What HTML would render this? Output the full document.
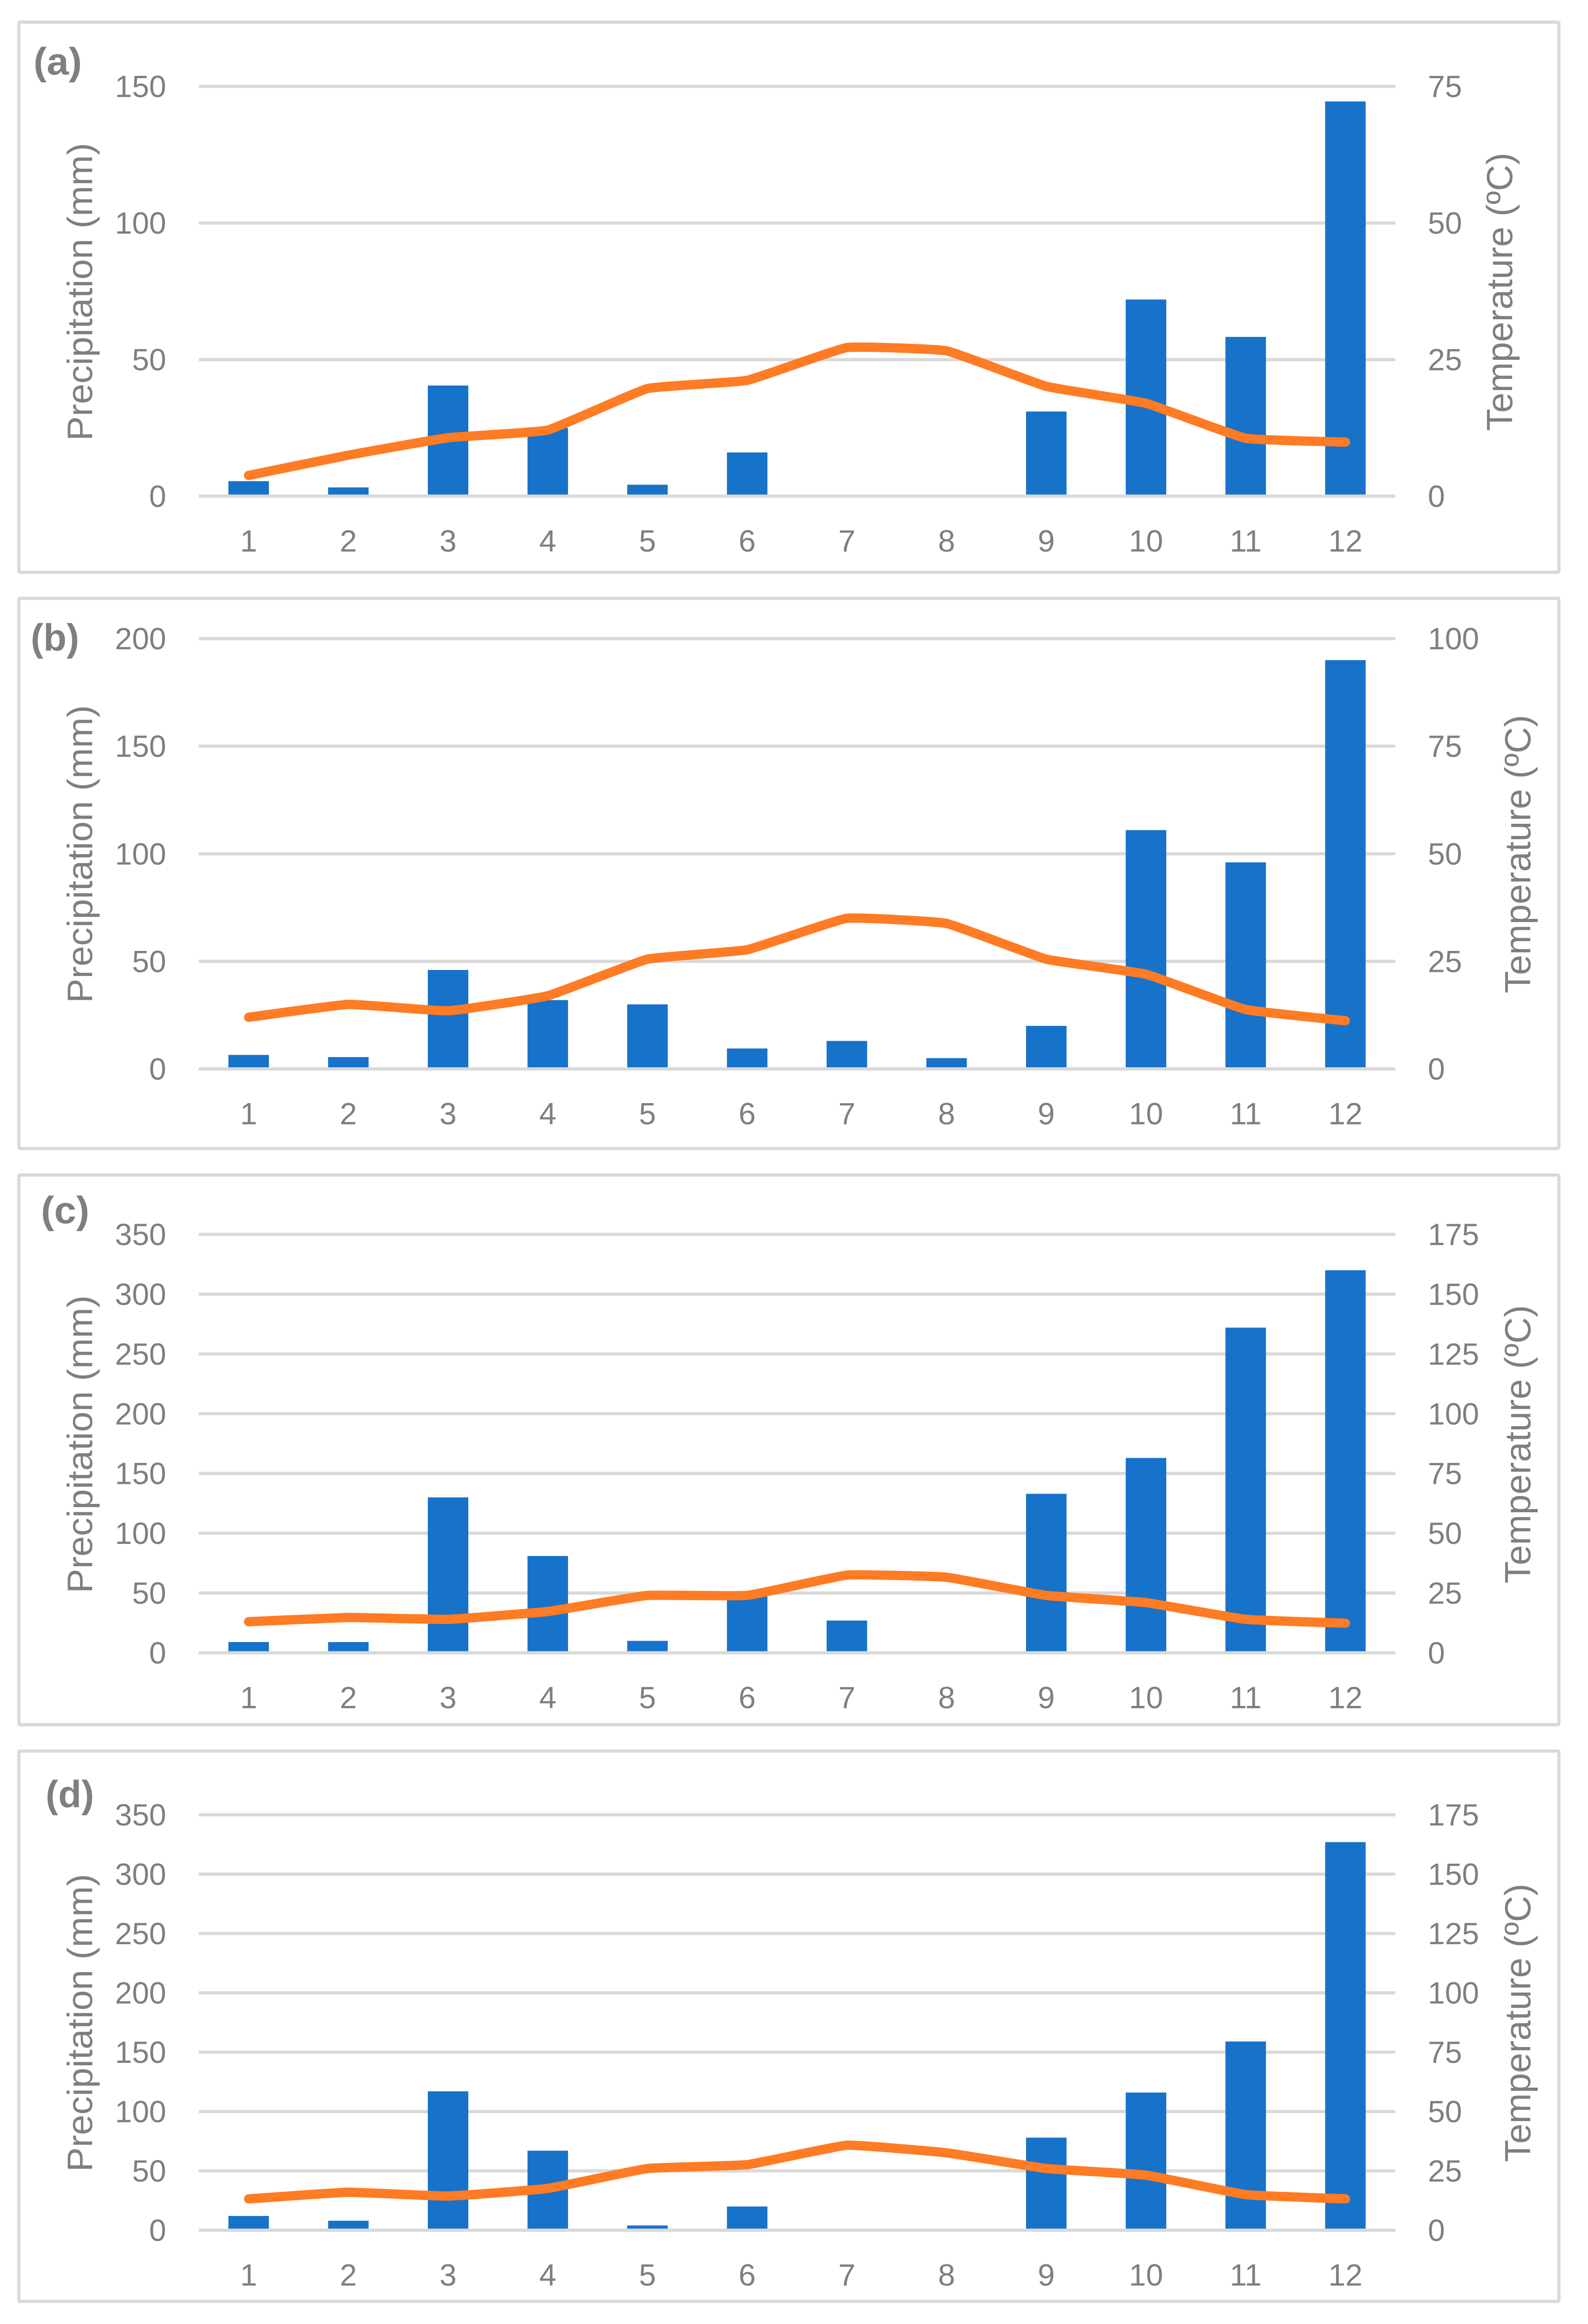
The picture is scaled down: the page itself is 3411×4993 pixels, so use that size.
<!DOCTYPE html>
<html lang="en">
<head>
<meta charset="utf-8">
<title>Monthly precipitation and temperature panels</title>
<style>
html,body{margin:0;padding:0;background:#fff;}
svg{display:block;}
text{font-family:"Liberation Sans",sans-serif;fill:#7f7f7f;}
</style>
</head>
<body>
<svg id="chart" xmlns="http://www.w3.org/2000/svg" width="3411" height="4993" viewBox="0 0 3411 4993"></svg>
<script>
const categories = ['1','2','3','4','5','6','7','8','9','10','11','12'];

const precipTicksA = [0,50,100,150];
const tempTicksA = [0,25,50,75];
const precipA = [5.5,3.2,40.5,25,4.2,16,0,0,31,72,58.3,144.5];
const tempA = [3.8,7.5,10.7,12.1,19.7,21.2,27.2,26.6,20.1,17,10.6,9.9];

const precipTicksB = [0,50,100,150,200];
const tempTicksB = [0,25,50,75,100];
const precipB = [6.5,5.5,46,32,30,9.5,13,5,20,111,96,190];
const tempB = [12,15,13.5,17,25.5,27.7,35,33.8,25.5,22,13.8,11.2];

const precipTicksC = [0,50,100,150,200,250,300,350];
const tempTicksC = [0,25,50,75,100,125,150,175];
const precipC = [9,9,130,81,10,50,27,0,133,163,272,320];
const tempC = [13,14.8,14,17.3,24,24,32.5,31.6,24,21,14,12.4];

const precipTicksD = [0,50,100,150,200,250,300,350];
const tempTicksD = [0,25,50,75,100,125,150,175];
const precipD = [12,8,117,67,4,20,0,0,78,116,159,327];
const tempD = [13.2,16,14.4,17.6,26,27.6,35.8,32.6,26,23.2,15,13.2];

const panels = [
  {id:'a',label:'(a)',labelX:72,labelY:160,frameTop:47.5,frameBottom:1229.5,plotTop:185.7,plotBottom:1066,tempTitleX:3248,titleY:627,
   precip:precipA,temp:tempA,precipTicks:precipTicksA,tempTicks:tempTicksA},
  {id:'b',label:'(b)',labelX:66,labelY:1398,frameTop:1285.5,frameBottom:2467.5,plotTop:1372,plotBottom:2296.5,tempTitleX:3287,titleY:1835,
   precip:precipB,temp:tempB,precipTicks:precipTicksB,tempTicks:tempTicksB},
  {id:'c',label:'(c)',labelX:88,labelY:2628,frameTop:2524.5,frameBottom:3705.5,plotTop:2652,plotBottom:3551,tempTitleX:3287,titleY:3103,
   precip:precipC,temp:tempC,precipTicks:precipTicksC,tempTicks:tempTicksC},
  {id:'d',label:'(d)',labelX:98,labelY:3883,frameTop:3762,frameBottom:4944.5,plotTop:3899,plotBottom:4791.5,tempTitleX:3287,titleY:4346,
   precip:precipD,temp:tempD,precipTicks:precipTicksD,tempTicks:tempTicksD}
];

const NS = 'http://www.w3.org/2000/svg';
const svg = document.getElementById('chart');
const plotLeft = 427, plotRight = 2997, frameLeft = 40.5, frameRight = 3348.5;
const barWidth = 87;

function make(tag, attrs, parent, txt){
  const el = document.createElementNS(NS, tag);
  for (const k in attrs) el.setAttribute(k, attrs[k]);
  if (txt !== undefined) el.textContent = txt;
  parent.appendChild(el);
  return el;
}
function xScale(i){
  return plotLeft + (plotRight - plotLeft) * (i + 0.5) / categories.length;
}
function yScale(p, ticks, v){
  const max = ticks[ticks.length - 1];
  return p.plotBottom - (p.plotBottom - p.plotTop) * v / max;
}
function smoothPath(pts){
  const k = 0.05;
  let d = 'M' + pts[0][0] + ' ' + pts[0][1];
  for (let i = 0; i < pts.length - 1; i++){
    const p0 = pts[Math.max(i - 1, 0)], p1 = pts[i], p2 = pts[i + 1], p3 = pts[Math.min(i + 2, pts.length - 1)];
    const c1x = p1[0] + (p2[0] - p0[0]) * k, c1y = p1[1] + (p2[1] - p0[1]) * k;
    const c2x = p2[0] - (p3[0] - p1[0]) * k, c2y = p2[1] - (p3[1] - p1[1]) * k;
    d += ' C' + c1x + ' ' + c1y + ' ' + c2x + ' ' + c2y + ' ' + p2[0] + ' ' + p2[1];
  }
  return d;
}

panels.forEach(function(p){
  const g = make('g', {}, svg);
  
  

  const frame = make('rect', {x:frameLeft, y:p.frameTop, width:frameRight-frameLeft, height:p.frameBottom-p.frameTop, fill:'#fff', stroke:'#d9d9d9', 'stroke-width':7, rx:3}, g);
  
  

  const label = make('text', {x:p.labelX, y:p.labelY, 'font-size':82, 'font-weight':'bold', textLength:104, lengthAdjust:'spacingAndGlyphs'}, g, p.label);
  
  

  p.precipTicks.forEach(function(t){
    const y = yScale(p, p.precipTicks, t);
    if (t !== 0){
      const line = make('line', {x1:plotLeft, x2:plotRight, y1:y, y2:y, stroke:'#d9d9d9', 'stroke-width':7}, g);
      
      
    }
    const tl = make('text', {x:357, y:y+23, 'font-size':66, 'text-anchor':'end'}, g, String(t));
    
    
  });

  p.tempTicks.forEach(function(t){
    const y = yScale(p, p.tempTicks, t);
    const tr = make('text', {x:3067, y:y+23, 'font-size':66}, g, String(t));
    
    
  });

  p.precip.forEach(function(v, i){
    const y = yScale(p, p.precipTicks, v);
    const bar = make('rect', {x:xScale(i)-barWidth/2, y:y, width:barWidth, height:Math.max(p.plotBottom-y,0), fill:'#1772c9'}, g);
    
    
  });

  const base = make('line', {x1:plotLeft, x2:plotRight, y1:p.plotBottom, y2:p.plotBottom, stroke:'#d9d9d9', 'stroke-width':7}, g);
  
  

  const pts = p.temp.map(function(v, i){ return [xScale(i), yScale(p, p.tempTicks, v)]; });
  const path = make('path', {d:smoothPath(pts), fill:'none', stroke:'#ff7b24', 'stroke-width':20, 'stroke-linecap':'round', 'stroke-linejoin':'round'}, g);
  
  

  categories.forEach(function(c, i){
    const xl = make('text', {x:xScale(i), y:p.plotBottom+119, 'font-size':66, 'text-anchor':'middle'}, g, c);
    
    
  });

  const lt = make('text', {transform:'translate(198 ' + p.titleY + ') rotate(-90)', 'font-size':76, 'text-anchor':'middle', textLength:640, lengthAdjust:'spacingAndGlyphs'}, g, 'Precipitation (mm)');
  
  

  const rt = make('text', {transform:'translate(' + p.tempTitleX + ' ' + p.titleY + ') rotate(-90)', 'font-size':78, 'text-anchor':'middle', textLength:598, lengthAdjust:'spacingAndGlyphs'}, g, 'Temperature (ºC)');
  
  
});
</script>
</body>
</html>
